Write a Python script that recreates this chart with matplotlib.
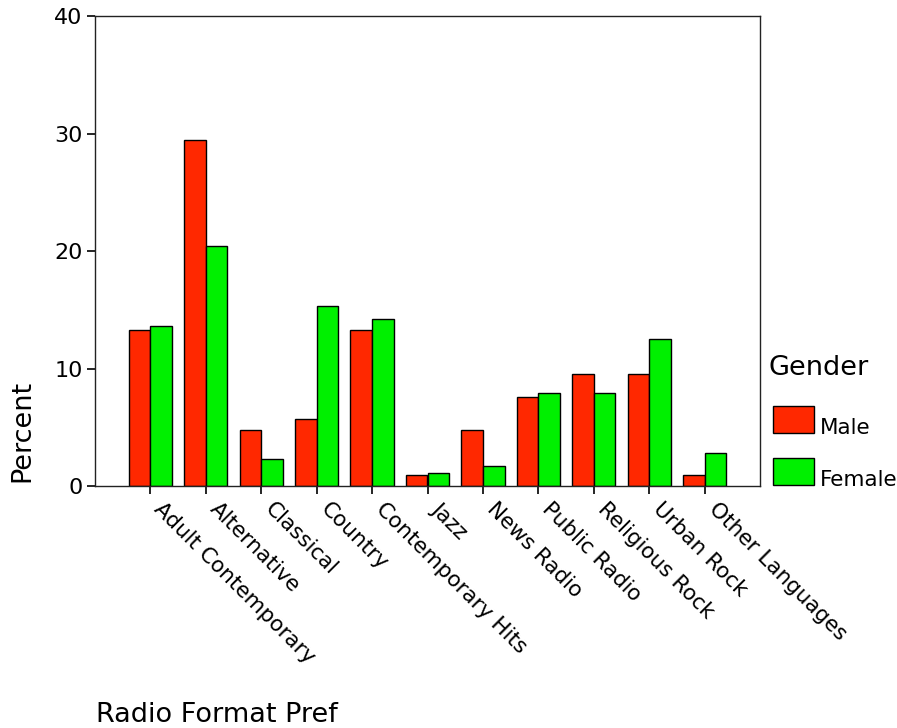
import matplotlib
matplotlib.use("Agg")
import matplotlib.pyplot as plt
import numpy as np
from matplotlib.patches import Rectangle

categories = ["Adult Contemporary", "Alternative", "Classical", "Country",
              "Contemporary Hits", "Jazz", "News Radio", "Public Radio",
              "Religious Rock", "Urban Rock", "Other Languages"]
male = [13.33, 29.52, 4.76, 5.71, 13.33, 0.95, 4.76, 7.62, 9.52, 9.52, 0.95]
female = [13.64, 20.45, 2.27, 15.34, 14.20, 1.14, 1.70, 7.95, 7.95, 12.50, 2.84]
yticks = [0, 10, 20, 30, 40]
series_names = ["Male", "Female"]

red = "#ff2800"
green = "#00f000"

W, H = 897, 728
fig = plt.figure(figsize=(W/100, H/100), dpi=100)
ax = fig.add_axes([95/W, 1-486/H, 665/W, 469.5/H])

x = np.arange(len(categories))
w = 0.39
ax.bar(x - w/2, male, w, color=red, edgecolor="black", linewidth=1.0)
ax.bar(x + w/2, female, w, color=green, edgecolor="black", linewidth=1.0)

ax.set_xlim(-1, 11)
ax.set_ylim(0, 40)
ax.set_yticks(yticks)
ax.set_xticks(x)
ax.set_xticklabels(categories, rotation=-45, ha="left", va="top",
                   rotation_mode="default", fontsize=15.5)
ax.tick_params(axis="both", direction="out", length=6, width=1.2, labelsize=16)
ax.tick_params(axis="x", pad=3, labelsize=15.5)
ax.tick_params(axis="y", pad=3)
for s in ax.spines.values():
    s.set_linewidth(1.0)
    s.set_color("#222222")

fig.text(22/W, 1-431/H, "Percent", rotation=90, ha="center", va="center", fontsize=19.5)
fig.text(96/W, 1-722/H, "Radio Format Pref", ha="left", va="baseline", fontsize=19.5)

# legend
fig.text(768/W, 1-368/H, "Gender", ha="left", va="center", fontsize=19.5)
for i, (name, col) in enumerate(zip(series_names, [red, green])):
    top = 406 + i * 52
    fig.patches.append(Rectangle((773/W, 1-(top+27)/H), 41/W, 27/H,
                                 transform=fig.transFigure, facecolor=col,
                                 edgecolor="black", linewidth=1.0))
    fig.text(820/W, 1-(top+28)/H, name, ha="left", va="baseline", fontsize=15.5)

fig.savefig("out.png", dpi=100)
